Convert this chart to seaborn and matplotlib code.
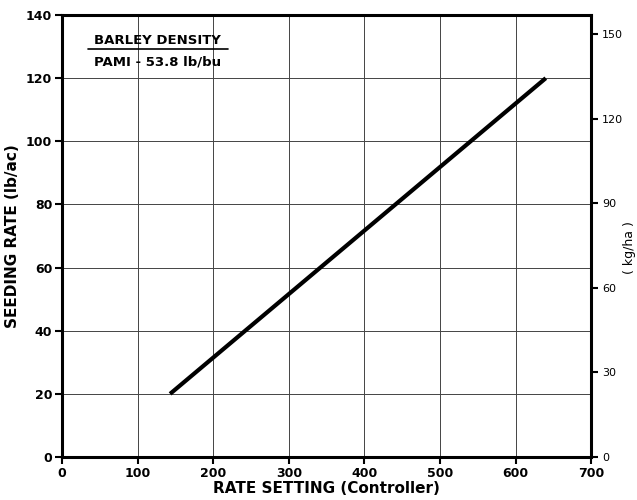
import pandas as pd
import seaborn as sns
from matplotlib import pyplot as plt

# barley calibration line
rate_setting = [143, 640]
seeding_rate = [20, 120]

x_ticks = [0, 100, 200, 300, 400, 500, 600, 700]
y_ticks = [0, 20, 40, 60, 80, 100, 120, 140]
kg_ticks = [0, 30, 60, 90, 120, 150]

LB_AC_TO_KG_HA = 1.12085


def plot_calibration(save_file_name="out.png"):
    sns.set_theme(style="white")
    plt.rcParams['font.family'] = ['DejaVu Sans']
    plt.rcParams['text.color'] = "black"
    plt.rcParams['axes.labelcolor'] = "black"
    df = pd.DataFrame({"setting": rate_setting, "rate": seeding_rate})

    fig = plt.figure(figsize=(6.37, 5.0), dpi=100)
    ax = fig.add_axes([0.0973, 0.086, 0.8307, 0.884])
    sns.lineplot(data=df, x="setting", y="rate", ax=ax, color="black", linewidth=3, solid_capstyle="butt")

    ax.set_xlim(0, 700)
    ax.set_ylim(0, 140)
    ax.set_xticks(x_ticks)
    ax.set_yticks(y_ticks)
    ax.grid(True, color="#444444", linewidth=0.7)
    for s in ax.spines.values():
        s.set_color("black")
        s.set_linewidth(2.2)
    ax.tick_params(axis="both", direction="out", length=5, width=1.5, color="black",
                   labelsize=9, labelcolor="black", pad=2, left=True, bottom=True)
    for lbl in ax.get_xticklabels() + ax.get_yticklabels():
        lbl.set_fontweight("bold")
    ax.set_xlabel("RATE SETTING (Controller)", fontsize=11, fontweight="bold", labelpad=1)
    ax.set_ylabel("SEEDING RATE (lb/ac)", fontsize=11, fontweight="bold", labelpad=4)

    sec = ax.secondary_yaxis("right", functions=(lambda v: v * LB_AC_TO_KG_HA, lambda v: v / LB_AC_TO_KG_HA))
    sec.set_yticks(kg_ticks)
    sec.tick_params(direction="out", length=5, width=1.5, color="black", labelsize=8, pad=3,
                    labelcolor="black")
    sec.spines["right"].set_visible(False)
    # right axis title placed by hand so it stays inside the figure
    fig.text(630 / 637, 1 - 248 / 500, "( kg/ha )", rotation=90, ha="center", va="center", fontsize=9)

    ax.text(0.18, 0.943, "BARLEY DENSITY", transform=ax.transAxes, ha="center", va="center",
            fontsize=9.5, fontweight="bold")
    ax.plot([0.049, 0.314], [0.924, 0.924], transform=ax.transAxes, color="black", linewidth=1.2)
    ax.text(0.18, 0.893, "PAMI - 53.8 lb/bu", transform=ax.transAxes, ha="center", va="center",
            fontsize=9.5, fontweight="bold")

    plt.savefig(save_file_name)


if __name__ == "__main__":
    plot_calibration("out.png")
